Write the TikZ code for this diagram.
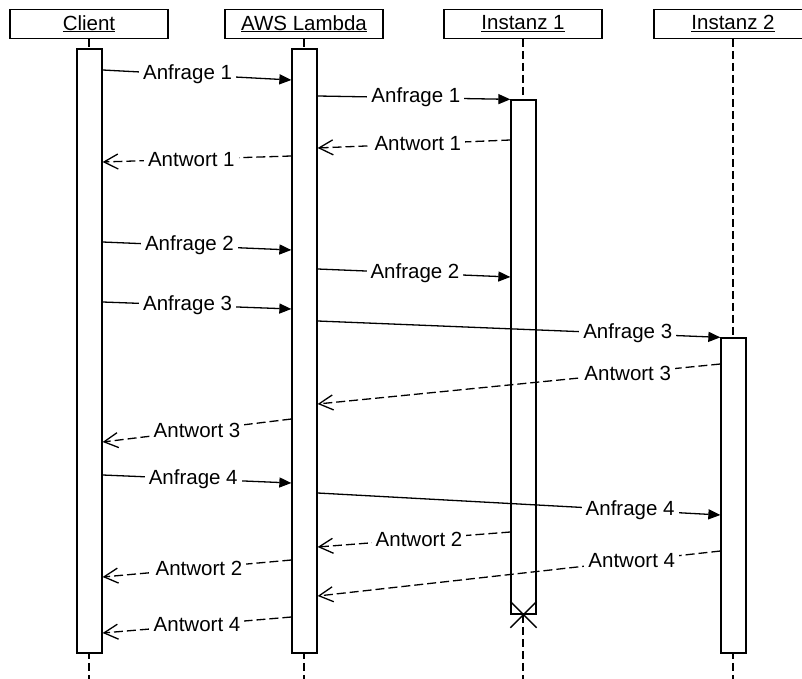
\documentclass[tikz,border=0pt]{standalone}
\usepackage{fontspec}
\setmainfont{Liberation Sans}
\usetikzlibrary{arrows.meta, shapes.misc}

\begin{document}
\begin{tikzpicture}[x=1pt, y=-1pt,
  head/.style={draw, line width=1.3pt, minimum width=158pt, minimum height=29pt,
               inner sep=0pt, font=\fontsize{20.5}{24}\selectfont},
  bar/.style={draw, fill=white, line width=1.3pt, minimum width=25pt, inner sep=0pt},
  life/.style={line width=1.3pt, dash pattern=on 8pt off 4pt},
  req/.style={line width=1.3pt, -{Triangle[length=12pt, width=10pt]}},
  resp/.style={line width=1.3pt, dash pattern=on 9pt off 4pt,
               -{Straight Barb[length=14pt, width=15pt]}},
  lbl/.style={fill=white, inner xsep=4pt, inner ysep=1pt, font=\fontsize{20.5}{24}\selectfont},
]
\useasboundingbox (0,0) rectangle (802,679);
\clip (0,0) rectangle (802,679);

% lifeline heads
\node[head] (client) at (89, 23.7) {\underline{Client}};
\node[head] (lambda) at (304, 23.7) {\underline{AWS Lambda}};
\node[head] (inst1) at (523, 23.7) {\underline{Instanz 1}};
\node[head] (inst2) at (733, 23.7) {\underline{Instanz 2}};

% dashed lifelines
\draw[life] (client.south) -- (client.south |- 0,679);
\draw[life] (lambda.south) -- (lambda.south |- 0,679);
\draw[life] (inst1.south) -- (inst1.south |- 0,679);
\draw[life] (inst2.south) -- (inst2.south |- 0,679);

% activation bars
\node[bar, minimum height=604pt] (cbar) at (89.5, 351) {};
\node[bar, minimum height=604pt] (lbar) at (304.5, 351) {};
\node[bar, minimum height=514pt] (ibar1) at (523.5, 357) {};
\node[bar, minimum height=315pt] (ibar2) at (733.5, 495.5) {};

% messages
\draw[req] (cbar.east |- 0,70) -- node[lbl, pos=.45] {Anfrage 1} (lbar.west |- 0,80);
\draw[req] (lbar.east |- 0,96) -- node[lbl, pos=.51] {Anfrage 1} (ibar1.north west);
\draw[resp] (ibar1.west |- 0,140) -- node[lbl, pos=.48] {Antwort 1} (lbar.east |- 0,148);
\draw[resp] (lbar.west |- 0,156) -- node[lbl, pos=.53] {Antwort 1} (cbar.east |- 0,162);

\draw[req] (cbar.east |- 0,242) -- node[lbl, pos=.46] {Anfrage 2} (lbar.west |- 0,250);
\draw[req] (lbar.east |- 0,269) -- node[lbl, pos=.505] {Anfrage 2} (ibar1.west |- 0,277);
\draw[req] (cbar.east |- 0,302) -- node[lbl, pos=.45] {Anfrage 3} (lbar.west |- 0,309);
\draw[req] (lbar.east |- 0,321) -- node[lbl, pos=.77] {Anfrage 3} (ibar2.north west);
\draw[resp] (ibar2.west |- 0,364) -- node[lbl, pos=.23] {Antwort 3} (lbar.east |- 0,404);
\draw[resp] (lbar.west |- 0,419) -- node[lbl, pos=.5] {Antwort 3} (cbar.east |- 0,442);

\draw[req] (cbar.east |- 0,475) -- node[lbl, pos=.48] {Anfrage 4} (lbar.west |- 0,483);
\draw[req] (lbar.east |- 0,493) -- node[lbl, pos=.776] {Anfrage 4} (ibar2.west |- 0,515);
\draw[resp] (ibar1.west |- 0,532) -- node[lbl, pos=.474] {Antwort 2} (lbar.east |- 0,547);
\draw[resp] (lbar.west |- 0,560) -- node[lbl, pos=.49] {Antwort 2} (cbar.east |- 0,577);
\draw[resp] (ibar2.west |- 0,551) -- node[lbl, pos=.22] {Antwort 4} (lbar.east |- 0,596);
\draw[resp] (lbar.west |- 0,617) -- node[lbl, pos=.5] {Antwort 4} (cbar.east |- 0,633);

% end of Instanz 1
\node[draw, cross out, line width=1.3pt, minimum size=25pt, inner sep=0pt] (kill) at (ibar1.south) {};
\end{tikzpicture}
\end{document}
